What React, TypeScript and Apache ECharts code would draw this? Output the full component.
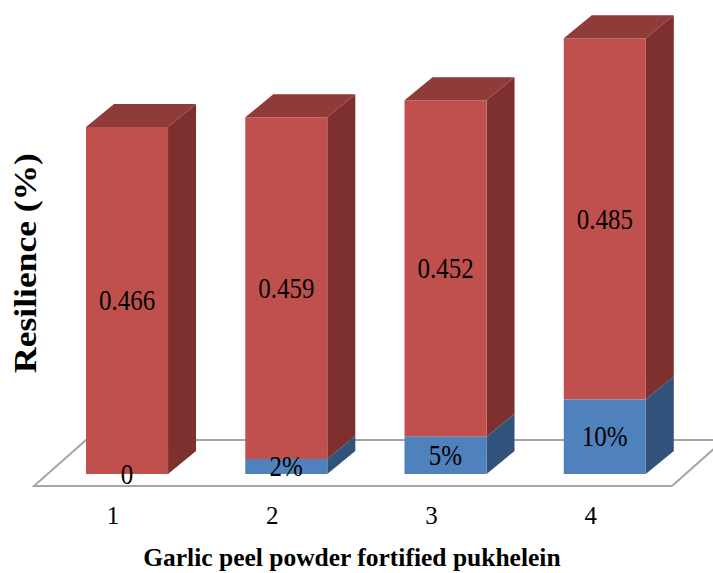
import React, { useEffect, useRef } from "react";
import * as echarts from "echarts";

const categories = ["1", "2", "3", "4"];
const fortificationShare = [0, 0.02, 0.05, 0.1];
const fortificationLabels = ["0", "2%", "5%", "10%"];
const resilience = [0.466, 0.459, 0.452, 0.485];
const xTitle = "Garlic peel powder fortified pukhelein";
const yTitle = "Resilience (%)";

const FONT = "'Liberation Serif', 'Times New Roman', serif";
const DEPTH_X = 28;
const DEPTH_Y = 23;
const BAR_RATIO = 0.515;

const box = (
  front: string,
  side: string,
  top: string,
  labels: string[],
  withTop: boolean
) => (params: any, api: any) => {
  const i = api.value(0);
  const low = api.coord([i, api.value(1)]);
  const high = api.coord([i, api.value(2)]);
  const w = api.size([1, 0])[0] * BAR_RATIO;
  const x0 = low[0] - w / 2;
  const x1 = low[0] + w / 2;
  const y0 = low[1];
  const y1 = high[1];
  const children: any[] = [];
  if (y0 - y1 > 0.5) {
    children.push({
      type: "polygon",
      shape: { points: [[x1, y0], [x1 + DEPTH_X, y0 - DEPTH_Y], [x1 + DEPTH_X, y1 - DEPTH_Y], [x1, y1]] },
      style: { fill: side },
    });
    children.push({
      type: "polygon",
      shape: { points: [[x0, y0], [x1, y0], [x1, y1], [x0, y1]] },
      style: { fill: front },
    });
    if (withTop) {
      children.push({
        type: "polygon",
        shape: { points: [[x0, y1], [x1, y1], [x1 + DEPTH_X, y1 - DEPTH_Y], [x0 + DEPTH_X, y1 - DEPTH_Y]] },
        style: { fill: top },
      });
    }
  }
  children.push({
    type: "text",
    z2: 10,
    x: low[0],
    y: (y0 + y1) / 2,
    scaleY: 1.15,
    style: {
      text: labels[params.dataIndex],
      x: 0,
      y: 0,
      align: "center",
      verticalAlign: "middle",
      fill: "#000000",
      font: `25px ${FONT}`,
    },
  });
  return { type: "group", children };
};

export default function App() {
  const ref = useRef<HTMLDivElement>(null);
  useEffect(() => {
    const chart = echarts.init(ref.current!, null, { renderer: "svg" });
    chart.setOption({
      animation: false,
      backgroundColor: "#ffffff",
      grid: { left: 47.4, width: 637, top: 27.2, height: 446.8, outerBoundsMode: "none", containLabel: false },
      xAxis: {
        type: "category",
        data: categories,
        axisLine: { show: false },
        axisTick: { show: false },
        axisLabel: {
          color: "#000",
          fontFamily: FONT,
          fontSize: 25,
          margin: 29,
          padding: [0, 28, 0, 0],
        },
        name: xTitle,
        nameLocation: "middle",
        nameGap: 70,
        nameTextStyle: {
          color: "#000",
          fontFamily: FONT,
          fontSize: 25.5,
          fontWeight: "bold",
          padding: [0, 28, 0, 0],
        },
      },
      yAxis: {
        type: "value",
        min: 0,
        max: 0.6,
        axisLine: { show: false },
        axisTick: { show: false },
        axisLabel: { show: false },
        splitLine: { show: false },
      },
      graphic: [
        {
          type: "polyline",
          z: 0,
          shape: {
            points: [[672, 486], [34, 486], [86, 440], [720, 440]],
          },
          style: { stroke: "#a6a6a6", lineWidth: 2, fill: "none" },
        },
        {
          type: "polyline",
          z: 0,
          shape: { points: [[672, 486], [716, 447]] },
          style: { stroke: "#a6a6a6", lineWidth: 2, fill: "none" },
        },
        {
          type: "text",
          x: 25,
          y: 263,
          rotation: Math.PI / 2,
          scaleX: 1.11,
          style: {
            text: yTitle,
            align: "center",
            verticalAlign: "middle",
            fill: "#000",
            font: `bold 32px ${FONT}`,
          },
        },
      ],
      series: [
        {
          type: "custom",
          name: "Resilience",
          z: 3,
          encode: { x: 0, y: [1, 2] },
          renderItem: box("#C0504D", "#7D302E", "#8E3B39", resilience.map((v) => v.toFixed(3)), true),
          data: resilience.map((v, i) => [i, fortificationShare[i], fortificationShare[i] + v]),
        },
        {
          type: "custom",
          name: "Garlic peel powder",
          z: 4,
          encode: { x: 0, y: [1, 2] },
          renderItem: box("#4F81BD", "#30527B", "#4F81BD", fortificationLabels, false),
          data: fortificationShare.map((v, i) => [i, 0, v]),
        },
      ],
    });
    return () => chart.dispose();
  }, []);
  return (
    <div
      ref={ref}
      style={{ position: "absolute", left: 0, top: 0, width: 713, height: 573 }}
    />
  );
}
